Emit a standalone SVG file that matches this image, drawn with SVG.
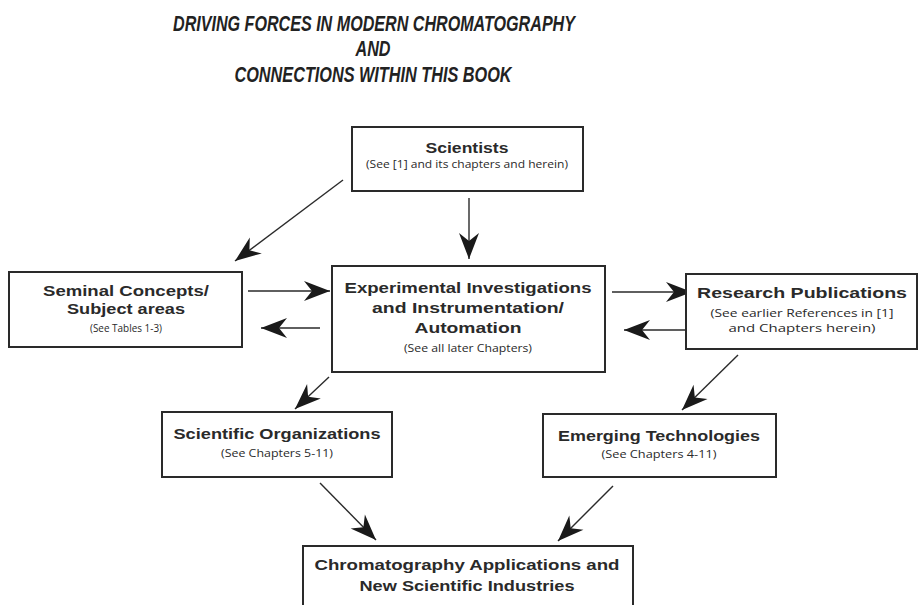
<svg xmlns="http://www.w3.org/2000/svg" width="921" height="605" viewBox="0 0 921 605">
<style>
.box{fill:#fff;stroke:#2a2a2a;stroke-width:2}
.t{font-family:"Liberation Sans",Arial,sans-serif;font-weight:bold;font-size:15px;fill:#2a2a2a;text-anchor:middle}
.s{font-family:"Open Sans","Liberation Sans",sans-serif;font-size:10.5px;fill:#2a2a2a;text-anchor:middle}
.h{font-family:"Liberation Sans",Arial,sans-serif;font-style:italic;font-weight:bold;font-size:22px;fill:#222;text-anchor:middle}
.c{stroke:#2a2a2a;stroke-width:1.4;fill:none;marker-end:url(#ah)}
</style>
<defs>
<marker id="ah" markerUnits="userSpaceOnUse" markerWidth="28" markerHeight="22" refX="26" refY="10" orient="auto" overflow="visible">
<path d="M26,10 L0,0 L8,10 L0,20 Z" fill="#1a1a1a"/>
</marker>
</defs>
<rect width="921" height="605" fill="#fff"/>
<g id="title">
<text class="h" x="374" y="31" textLength="402" lengthAdjust="spacingAndGlyphs">DRIVING FORCES IN MODERN CHROMATOGRAPHY</text>
<text class="h" x="373" y="56" textLength="35" lengthAdjust="spacingAndGlyphs">AND</text>
<text class="h" x="373" y="82" textLength="277" lengthAdjust="spacingAndGlyphs">CONNECTIONS WITHIN THIS BOOK</text>
</g>
<g id="connectors">
<line class="c" x1="343" y1="180" x2="235" y2="261"/>
<line class="c" x1="469" y1="198" x2="469" y2="259"/>
<line class="c" x1="248" y1="291" x2="330" y2="291"/>
<line class="c" x1="320" y1="328" x2="261" y2="328"/>
<line class="c" x1="612" y1="292" x2="692" y2="292"/>
<line class="c" x1="685" y1="330" x2="624" y2="330"/>
<line class="c" x1="329" y1="377" x2="295" y2="409"/>
<line class="c" x1="738" y1="355" x2="682" y2="410"/>
<line class="c" x1="320" y1="483" x2="376" y2="540"/>
<line class="c" x1="613" y1="486" x2="558" y2="541"/>
</g>
<g id="scientists">
<rect class="box" x="352" y="127" width="231" height="64"/>
<text class="t" x="467" y="153" textLength="83" lengthAdjust="spacingAndGlyphs">Scientists</text>
<text class="s" x="467" y="168" textLength="202" lengthAdjust="spacingAndGlyphs">(See [1] and its chapters and herein)</text>
</g>
<g id="seminal">
<rect class="box" x="9" y="272" width="233" height="75"/>
<text class="t" x="126" y="296" textLength="166" lengthAdjust="spacingAndGlyphs">Seminal Concepts/</text>
<text class="t" x="126" y="314" textLength="118" lengthAdjust="spacingAndGlyphs">Subject areas</text>
<text class="s" x="126" y="332" textLength="72" lengthAdjust="spacingAndGlyphs">(See Tables 1-3)</text>
</g>
<g id="experimental">
<rect class="box" x="332" y="266" width="273" height="106"/>
<text class="t" x="468" y="293" textLength="247" lengthAdjust="spacingAndGlyphs">Experimental Investigations</text>
<text class="t" x="468" y="313" textLength="192" lengthAdjust="spacingAndGlyphs">and Instrumentation/</text>
<text class="t" x="468" y="333" textLength="107" lengthAdjust="spacingAndGlyphs">Automation</text>
<text class="s" x="468" y="352" textLength="128" lengthAdjust="spacingAndGlyphs">(See all later Chapters)</text>
</g>
<g id="research">
<rect class="box" x="686" y="274" width="231" height="75"/>
<text class="t" x="802" y="298" textLength="210" lengthAdjust="spacingAndGlyphs">Research Publications</text>
<text class="s" x="802" y="317" textLength="183" lengthAdjust="spacingAndGlyphs">(See earlier References in [1]</text>
<text class="s" x="802" y="332" textLength="147" lengthAdjust="spacingAndGlyphs">and Chapters herein)</text>
</g>
<g id="organizations">
<rect class="box" x="162" y="412" width="230" height="65"/>
<text class="t" x="277" y="439" textLength="207" lengthAdjust="spacingAndGlyphs">Scientific Organizations</text>
<text class="s" x="277" y="457" textLength="112" lengthAdjust="spacingAndGlyphs">(See Chapters 5-11)</text>
</g>
<g id="emerging">
<rect class="box" x="543" y="414" width="233" height="63"/>
<text class="t" x="659" y="441" textLength="202" lengthAdjust="spacingAndGlyphs">Emerging Technologies</text>
<text class="s" x="659" y="458" textLength="115" lengthAdjust="spacingAndGlyphs">(See Chapters 4-11)</text>
</g>
<g id="applications">
<rect class="box" x="303" y="546" width="330" height="70"/>
<text class="t" x="467" y="570" textLength="305" lengthAdjust="spacingAndGlyphs">Chromatography Applications and</text>
<text class="t" x="467" y="591" textLength="215" lengthAdjust="spacingAndGlyphs">New Scientific Industries</text>
</g>
</svg>
